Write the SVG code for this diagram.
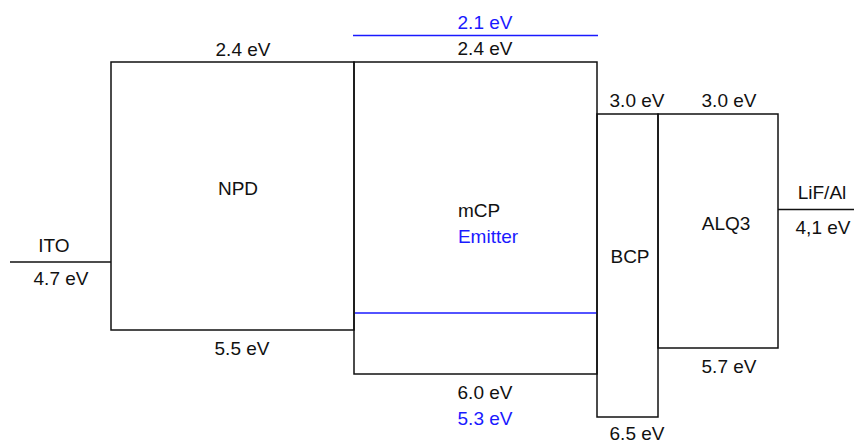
<svg xmlns="http://www.w3.org/2000/svg" width="854" height="443" viewBox="0 0 854 443">
<style>
.ln{fill:none;stroke:#111;stroke-width:1.5}
.bl{fill:none;stroke:#1a1aff;stroke-width:1.5}
text{font-family:"Liberation Sans",Arial,sans-serif;font-size:19px;fill:#111;text-anchor:middle}
.b{fill:#1a1aff}
</style>
<rect width="854" height="443" fill="#fff"/>
<g id="ITO">
<line class="ln" x1="10" y1="262" x2="111" y2="262"/>
<text x="54" y="252">ITO</text>
<text x="61" y="285">4.7 eV</text>
</g>
<g id="NPD">
<rect class="ln" x="111" y="62" width="243" height="268"/>
<text x="243" y="56">2.4 eV</text>
<text x="238" y="195">NPD</text>
<text x="242" y="355">5.5 eV</text>
</g>
<g id="mCP">
<rect class="ln" x="354" y="62" width="243" height="312"/>
<line class="bl" x1="353" y1="35.5" x2="598" y2="35.5"/>
<line class="bl" x1="355" y1="313" x2="597" y2="313"/>
<text class="b" x="485" y="29">2.1 eV</text>
<text x="485" y="55">2.4 eV</text>
<text x="479" y="217">mCP</text>
<text class="b" x="488" y="243">Emitter</text>
<text x="485" y="399">6.0 eV</text>
<text class="b" x="485" y="425">5.3 eV</text>
</g>
<g id="BCP">
<rect class="ln" x="597" y="114" width="61" height="303"/>
<text x="637" y="107">3.0 eV</text>
<text x="630" y="263">BCP</text>
<text x="637" y="440">6.5 eV</text>
</g>
<g id="ALQ3">
<rect class="ln" x="658" y="114" width="120" height="234"/>
<text x="729" y="107">3.0 eV</text>
<text x="726" y="230">ALQ3</text>
<text x="729" y="373">5.7 eV</text>
</g>
<g id="LiFAl">
<line class="ln" x1="778" y1="209.5" x2="854" y2="209.5"/>
<text x="822" y="199">LiF/Al</text>
<text x="823" y="234">4,1 eV</text>
</g>
<g id="connectors"></g>
</svg>
